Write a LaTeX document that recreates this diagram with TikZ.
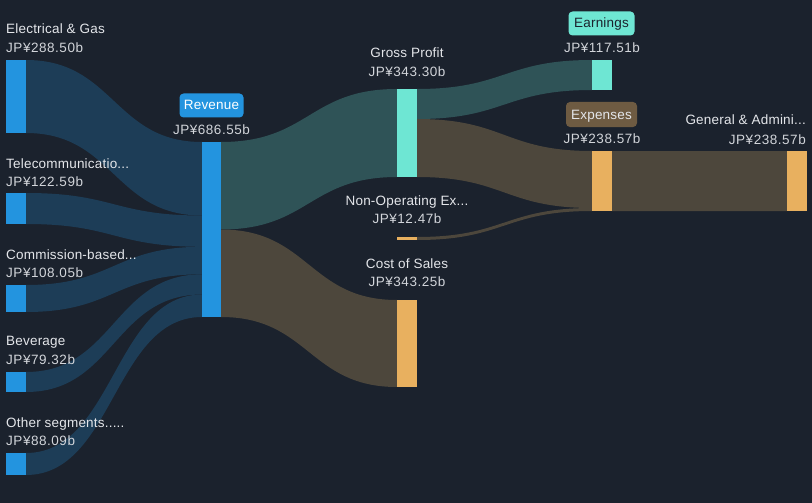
\documentclass[tikz,border=0pt]{standalone}
\usepackage{fontspec}
\setmainfont{Liberation Sans}
\newfontfamily\lblfont[LetterSpace=1.5]{Liberation Sans}
\newfontfamily\valfont[LetterSpace=4]{Liberation Sans}
\usetikzlibrary{calc}
\definecolor{bg}{HTML}{1B222D}
\definecolor{bluenode}{HTML}{2394DF}
\definecolor{blueflow}{HTML}{1D3D57}
\definecolor{tealnode}{HTML}{6EE6D3}
\definecolor{tealflow}{HTML}{2F5357}
\definecolor{orangenode}{HTML}{E8B05F}
\definecolor{brownflow}{HTML}{4D473C}
\definecolor{brownbadge}{HTML}{6E5B42}
\definecolor{txt}{HTML}{E4E6EA}
\definecolor{valtxt}{HTML}{D2D5DA}
\pgfdeclarelayer{back}
\pgfsetlayers{back,main}
\newcommand\band[5]{%
  \fill[#1] let \p1=#2, \p2=#3, \p3=#4, \p4=#5, \p5=($#2!0.5!#4$) in
  (\p1) .. controls (\x5,\y1) and (\x5,\y3) .. (\p3) -- (\p4)
  .. controls (\x5,\y4) and (\x5,\y2) .. (\p2) -- cycle;}
\begin{document}
\begin{tikzpicture}[x=1pt,y=-1pt,
  bar/.style={rectangle, draw=none, inner sep=0pt, outer sep=0pt, minimum width=20pt, anchor=north west},
  lbl/.style={text=txt, font=\lblfont\fontsize{13.5}{15}\selectfont, inner sep=0pt},
  val/.style={text=valtxt, font=\valfont\fontsize{13.5}{15}\selectfont, inner sep=0pt},
  badge/.style={rounded corners=4pt, inner sep=0pt}]
\useasboundingbox (0,0) rectangle (812,503);
% bars
\node[bar, fill=bluenode, minimum height=73pt] (elec) at (6,60) {};
\node[bar, fill=bluenode, minimum height=31pt] (tel) at (6,193) {};
\node[bar, fill=bluenode, minimum height=27pt] (com) at (6,285) {};
\node[bar, fill=bluenode, minimum height=20pt] (bev) at (6,372) {};
\node[bar, fill=bluenode, minimum height=22pt] (oth) at (6,453) {};
\node[bar, fill=bluenode, minimum height=175pt, minimum width=19pt] (rev) at (202,142) {};
\node[bar, fill=tealnode, minimum height=88pt] (gp) at (397,89) {};
\node[bar, fill=orangenode, minimum height=3pt] (nonop) at (397,237) {};
\node[bar, fill=orangenode, minimum height=87pt] (cos) at (397,300) {};
\node[bar, fill=tealnode, minimum height=30pt] (earn) at (592,60) {};
\node[bar, fill=orangenode, minimum height=60pt] (exp) at (592,151) {};
\node[bar, fill=orangenode, minimum height=60pt] (ga) at (787,151) {};
% split points
\coordinate (r1) at ($(rev.north west)+(0,73.5)$);
\coordinate (r2) at ($(rev.north west)+(0,104.8)$);
\coordinate (r3) at ($(rev.north west)+(0,132.3)$);
\coordinate (r4) at ($(rev.north west)+(0,152.5)$);
\coordinate (ro) at ($(rev.north east)+(0,87.5)$);
\coordinate (g1) at ($(gp.north east)+(0,30)$);
\coordinate (e1) at ($(exp.north west)+(0,57)$);
\begin{pgfonlayer}{back}
\fill[bg] (0,0) rectangle (812,503);
\band{blueflow}{(elec.north east)}{(elec.south east)}{(rev.north west)}{(r1)}
\band{blueflow}{(tel.north east)}{(tel.south east)}{(r1)}{(r2)}
\band{blueflow}{(com.north east)}{(com.south east)}{(r2)}{(r3)}
\band{blueflow}{(bev.north east)}{(bev.south east)}{(r3)}{(r4)}
\band{blueflow}{(oth.north east)}{(oth.south east)}{(r4)}{(rev.south west)}
\band{tealflow}{(rev.north east)}{(ro)}{(gp.north west)}{(gp.south west)}
\band{brownflow}{(ro)}{(rev.south east)}{(cos.north west)}{(cos.south west)}
\band{tealflow}{(gp.north east)}{(g1)}{(earn.north west)}{(earn.south west)}
\band{brownflow}{(g1)}{(gp.south east)}{(exp.north west)}{(e1)}
\band{brownflow}{(nonop.north east)}{(nonop.south east)}{(e1)}{(exp.south west)}
\band{brownflow}{(exp.north east)}{(exp.south east)}{(ga.north west)}{(ga.south west)}
\end{pgfonlayer}
% left labels
\node[lbl, anchor=base west] (lelec) at (6,34) {Electrical \& Gas};
\node[val, anchor=base west] (velec) at (6,53) {JP¥288.50b};
\node[lbl, anchor=base west] (ltel) at (6,168) {Telecommunicatio...};
\node[val, anchor=base west] (vtel) at (6,186.5) {JP¥122.59b};
\node[lbl, anchor=base west] (lcom) at (6,259) {Commission-based...};
\node[val, anchor=base west] (vcom) at (6,277.5) {JP¥108.05b};
\node[lbl, anchor=base west] (lbev) at (6,345.5) {Beverage};
\node[val, anchor=base west] (vbev) at (6,364) {JP¥79.32b};
\node[lbl, anchor=base west] (loth) at (6,427) {Other segments.....};
\node[val, anchor=base west] (voth) at (6,445.5) {JP¥88.09b};
% revenue
\node[badge, fill=bluenode, minimum width=64pt, minimum height=24pt] (brev) at (211.5,105.5) {};
\node[lbl, text=white, anchor=base] (lrev) at (211.5,110) {Revenue};
\node[val, anchor=base] (vrev) at (211.5,134) {JP¥686.55b};
% middle column
\node[lbl, anchor=base] (lgp) at (407,58) {Gross Profit};
\node[val, anchor=base] (vgp) at (407,76.5) {JP¥343.30b};
\node[lbl, anchor=base] (lnon) at (407,205) {Non-Operating Ex...};
\node[val, anchor=base] (vnon) at (407,223.5) {JP¥12.47b};
\node[lbl, anchor=base] (lcos) at (407,268) {Cost of Sales};
\node[val, anchor=base] (vcos) at (407,286.5) {JP¥343.25b};
% right column
\node[badge, fill=tealnode, minimum width=66pt, minimum height=24pt] (bearn) at (601.5,23.5) {};
\node[lbl, text=bg, anchor=base] (learn) at (601.5,28) {Earnings};
\node[val, anchor=base] (vearn) at (602,53) {JP¥117.51b};
\node[badge, fill=brownbadge, minimum width=71pt, minimum height=25pt] (bexp) at (601.5,114.5) {};
\node[lbl, anchor=base] (lexp) at (601.5,119) {Expenses};
\node[val, anchor=base] (vexp) at (602,143) {JP¥238.57b};
\node[lbl, anchor=base east] (lga) at (806,124.5) {General \& Admini...};
\node[val, anchor=base east] (vga) at (806,144) {JP¥238.57b};
\end{tikzpicture}
\end{document}
